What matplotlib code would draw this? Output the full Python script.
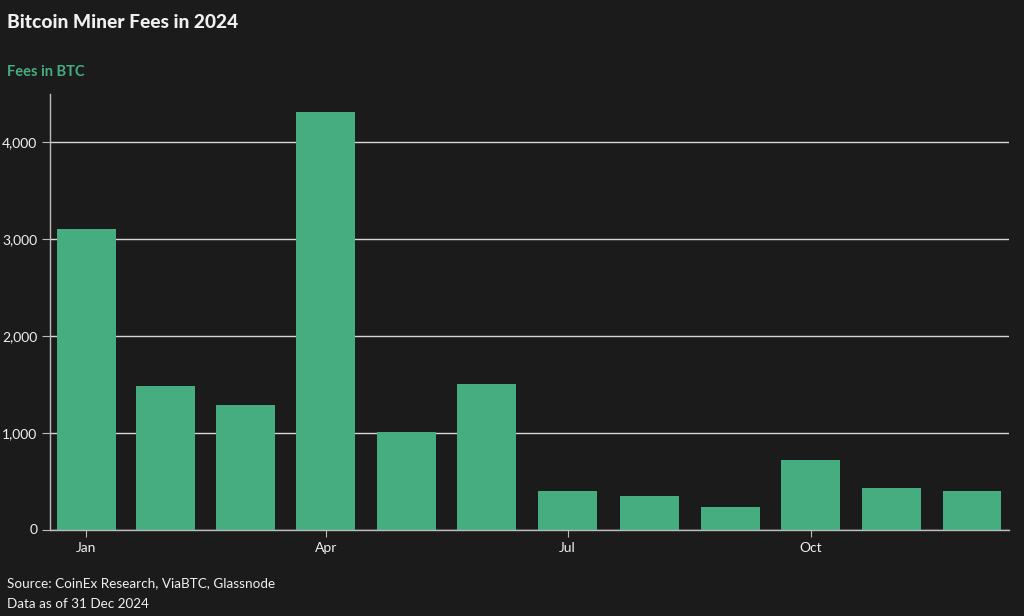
import numpy as np
import matplotlib.pyplot as plt
from matplotlib.ticker import FuncFormatter

plt.rcParams['font.family'] = ['Lato', 'DejaVu Sans']

months = ['Jan', 'Feb', 'Mar', 'Apr', 'May', 'Jun',
          'Jul', 'Aug', 'Sep', 'Oct', 'Nov', 'Dec']
fees_btc = [3100, 1478, 1282, 4314, 1003, 1499, 397, 342, 228, 715, 431, 397]
tick_months = ['Jan', 'Apr', 'Jul', 'Oct']

BG = '#1b1b1c'
GREEN = '#45ad80'
TEXT = '#f0f0f0'

# bars sit at the middle of each month on a day-of-year axis
starts = np.arange('2024-01', '2025-02', dtype='datetime64[M]').astype('datetime64[D]')
doy = (starts - starts[0]).astype(int)
centers = (doy[:-1] + doy[1:]) / 2

fig = plt.figure(figsize=(10.24, 6.16), dpi=100, facecolor=BG)
ax = fig.add_axes([50 / 1024, (616 - 529.5) / 616, 959 / 1024, (529.5 - 94) / 616])
ax.set_facecolor(BG)

ax.bar(centers, fees_btc, width=22.3, color=GREEN, zorder=2)

ax.set_xlim(1.7, 364.5)
ax.set_ylim(0, 4500)
ax.set_yticks([0, 1000, 2000, 3000, 4000])
ax.yaxis.set_major_formatter(FuncFormatter(lambda v, p: f'{int(v):,}'))
ax.grid(axis='y', color='#d8d8d8', linewidth=1, zorder=1)

ax.set_xticks([centers[months.index(m)] for m in tick_months])
ax.set_xticklabels(tick_months)

for s in ['top', 'right']:
    ax.spines[s].set_visible(False)
for s in ['left', 'bottom']:
    ax.spines[s].set_color('#bbbbbb')
    ax.spines[s].set_linewidth(1)
ax.tick_params(axis='y', colors='#bbbbbb', labelcolor=TEXT, labelsize=10, length=6, pad=3)
ax.tick_params(axis='x', colors='#bbbbbb', labelcolor=TEXT, labelsize=10, length=5, pad=4)

fig.text(7 / 1024, 1 - 22 / 616, 'Bitcoin Miner Fees in 2024', color=TEXT,
         fontsize=13.8, fontweight='black', va='center', ha='left')
fig.text(7 / 1024, 1 - 72 / 616, 'Fees in BTC', color=GREEN,
         fontsize=10.5, fontweight='bold', va='center', ha='left')
fig.text(7 / 1024, 1 - 583 / 616, 'Source: CoinEx Research, ViaBTC, Glassnode', color=TEXT,
         fontsize=9.7, va='center', ha='left')
fig.text(7 / 1024, 1 - 604 / 616, 'Data as of 31 Dec 2024', color=TEXT,
         fontsize=9.7, va='center', ha='left')

fig.savefig('out.png', dpi=100, facecolor=BG)
